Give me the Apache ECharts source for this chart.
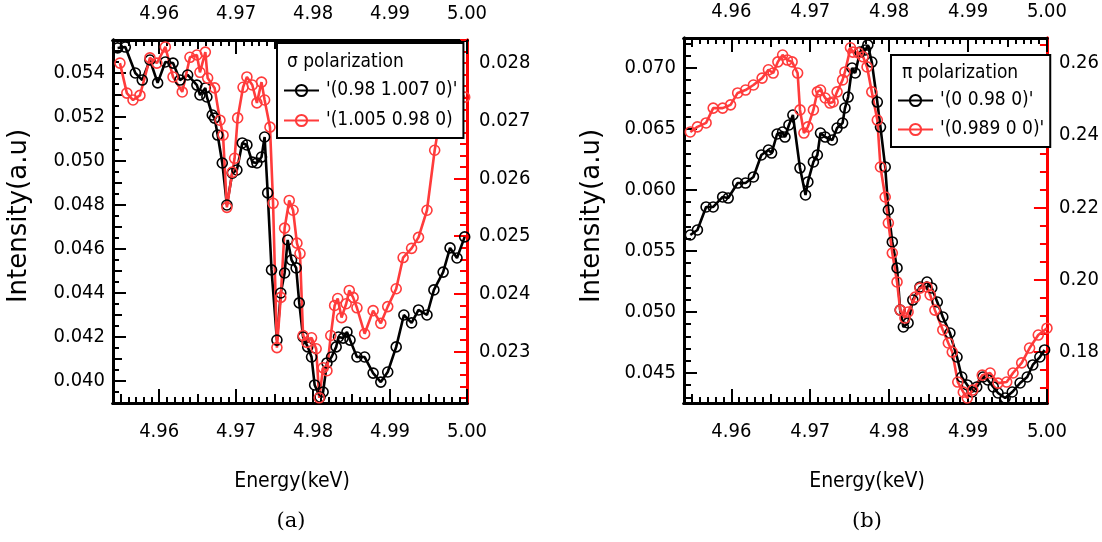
<!DOCTYPE html>
<html><head><meta charset="utf-8">
<script src="https://cdn.jsdelivr.net/npm/echarts@6/dist/echarts.min.js"></script>
<style>html,body{margin:0;padding:0;background:#fff}#c{width:1102px;height:542px}</style>
</head><body><div id="c"></div>
<script>
// ---------- data ----------
const aBlackE = [4.9546,4.9556,4.9569,4.9578,4.9588,4.9598,4.9608,4.9618,4.9627,4.9637,4.9649,4.9653,4.9660,4.9662,4.9669,4.9672,4.9676,4.9682,4.9688,4.9695,4.9701,4.9708,4.9714,4.9721,4.9727,4.9733,4.9737,4.9741,4.9746,4.9753,4.9758,4.9763,4.9767,4.9772,4.9778,4.9782,4.9787,4.9793,4.9798,4.9802,4.9809,4.9813,4.9818,4.9824,4.9830,4.9833,4.9839,4.9844,4.9848,4.9857,4.9867,4.9878,4.9888,4.9897,4.9908,4.9918,4.9928,4.9937,4.9948,4.9957,4.9969,4.9978,4.9987,4.9997];
const aBlackI = [0.05514,0.05518,0.05400,0.05368,0.05459,0.05355,0.05450,0.05445,0.05368,0.05391,0.05345,0.05300,0.05332,0.05291,0.05209,0.05195,0.05118,0.04991,0.04800,0.04945,0.04959,0.05082,0.05073,0.04995,0.04991,0.05018,0.05109,0.04855,0.04505,0.04186,0.04400,0.04491,0.04641,0.04550,0.04514,0.04355,0.04200,0.04155,0.04109,0.03982,0.03927,0.03950,0.04082,0.04109,0.04155,0.04200,0.04195,0.04223,0.04186,0.04109,0.04109,0.04036,0.03995,0.04041,0.04155,0.04300,0.04264,0.04323,0.04300,0.04414,0.04495,0.04605,0.04559,0.04655];
const aRedE = [4.9549,4.9558,4.9566,4.9575,4.9588,4.9597,4.9608,4.9618,4.9630,4.9640,4.9649,4.9653,4.9660,4.9663,4.9672,4.9679,4.9683,4.9688,4.9695,4.9698,4.9702,4.9709,4.9714,4.9721,4.9727,4.9733,4.9737,4.9744,4.9748,4.9753,4.9758,4.9763,4.9769,4.9774,4.9779,4.9783,4.9787,4.9792,4.9798,4.9804,4.9808,4.9813,4.9818,4.9823,4.9828,4.9832,4.9837,4.9843,4.9847,4.9852,4.9857,4.9867,4.9878,4.9888,4.9897,4.9908,4.9917,4.9928,4.9937,4.9948,4.9958,4.9973,4.9997];
const aRedI = [0.02800,0.02748,0.02736,0.02744,0.02809,0.02800,0.02828,0.02776,0.02750,0.02810,0.02814,0.02784,0.02819,0.02774,0.02757,0.02701,0.02675,0.02550,0.02611,0.02635,0.02705,0.02758,0.02776,0.02762,0.02731,0.02767,0.02736,0.02689,0.02557,0.02307,0.02394,0.02514,0.02562,0.02545,0.02488,0.02470,0.02328,0.02316,0.02324,0.02305,0.02220,0.02272,0.02267,0.02328,0.02380,0.02392,0.02359,0.02383,0.02406,0.02394,0.02376,0.02331,0.02371,0.02349,0.02378,0.02409,0.02463,0.02479,0.02498,0.02545,0.02649,0.02770,0.02741];
const bBlackE = [4.9548,4.9557,4.9568,4.9577,4.9589,4.9596,4.9608,4.9618,4.9628,4.9638,4.9647,4.9651,4.9658,4.9665,4.9668,4.9673,4.9678,4.9687,4.9694,4.9697,4.9704,4.9709,4.9713,4.9719,4.9728,4.9734,4.9741,4.9744,4.9748,4.9753,4.9757,4.9763,4.9770,4.9773,4.9778,4.9785,4.9789,4.9795,4.9799,4.9804,4.9810,4.9814,4.9818,4.9824,4.9830,4.9839,4.9848,4.9854,4.9861,4.9868,4.9877,4.9886,4.9892,4.9899,4.9905,4.9911,4.9919,4.9925,4.9932,4.9938,4.9947,4.9956,4.9966,4.9975,4.9982,4.9991,4.9997];
const bBlackI = [0.05631,0.05672,0.05861,0.05861,0.05943,0.05934,0.06057,0.06057,0.06107,0.06287,0.06328,0.06303,0.06459,0.06475,0.06434,0.06533,0.06615,0.06180,0.05959,0.06066,0.06230,0.06287,0.06467,0.06434,0.06410,0.06508,0.06549,0.06672,0.06762,0.07000,0.06959,0.07131,0.07148,0.07189,0.07049,0.06721,0.06516,0.06189,0.05836,0.05574,0.05361,0.05016,0.04877,0.04910,0.05098,0.05205,0.05246,0.05197,0.05082,0.04959,0.04828,0.04631,0.04467,0.04402,0.04344,0.04385,0.04467,0.04443,0.04385,0.04336,0.04295,0.04344,0.04418,0.04467,0.04566,0.04631,0.04689];
const bRedE = [4.9548,4.9557,4.9568,4.9577,4.9589,4.9599,4.9608,4.9618,4.9628,4.9639,4.9647,4.9653,4.9659,4.9665,4.9671,4.9677,4.9684,4.9687,4.9692,4.9697,4.9704,4.9709,4.9713,4.9719,4.9725,4.9729,4.9734,4.9741,4.9744,4.9751,4.9754,4.9761,4.9767,4.9772,4.9778,4.9785,4.9789,4.9795,4.9799,4.9804,4.9810,4.9814,4.9820,4.9824,4.9833,4.9839,4.9848,4.9852,4.9858,4.9868,4.9875,4.9880,4.9887,4.9894,4.9899,4.9906,4.9918,4.9928,4.9938,4.9949,4.9957,4.9968,4.9978,4.9989,5.0000];
const bRedI = [0.2409,0.2423,0.2434,0.2475,0.2475,0.2484,0.2517,0.2525,0.2539,0.2558,0.2581,0.2572,0.2603,0.2622,0.2608,0.2603,0.2572,0.2470,0.2406,0.2423,0.2470,0.2520,0.2525,0.2503,0.2489,0.2492,0.2520,0.2553,0.2575,0.2642,0.2630,0.2628,0.2617,0.2589,0.2520,0.2442,0.2312,0.2229,0.2157,0.2074,0.1994,0.1916,0.1894,0.1911,0.1952,0.1977,0.1980,0.1958,0.1916,0.1861,0.1825,0.1800,0.1717,0.1689,0.1673,0.1695,0.1736,0.1742,0.1714,0.1717,0.1742,0.1770,0.1811,0.1847,0.1866];

const seriesNames = ["'(0.98 1.007 0)'", "'(1.005 0.98 0)", "'(0 0.98 0)'", "'(0.989 0 0)'"];
const legendTitles = ['σ polarization', 'π polarization'];
const xTitle = 'Energy(keV)';
const yTitle = 'Intensity(a.u)';
const panelTags = ['(a)', '(b)'];

const xMajor = [4.96, 4.97, 4.98, 4.99, 5.00];
const aLeftMajor = [0.040, 0.042, 0.044, 0.046, 0.048, 0.050, 0.052, 0.054];
const aRightMajor = [0.023, 0.024, 0.025, 0.026, 0.027, 0.028];
const bLeftMajor = [0.045, 0.050, 0.055, 0.060, 0.065, 0.070];
const bRightMajor = [0.18, 0.20, 0.22, 0.24, 0.26];

// ---------- helpers ----------
function range(a, b, step) {
  const out = []; const n = Math.round((b - a) / step);
  for (let i = 0; i <= n; i++) out.push(+(a + i * step).toFixed(6));
  return out;
}
function zip(xs, ys) { return xs.map((x, i) => [x, ys[i]]); }
const FONT = "'DejaVu Sans Condensed','Liberation Sans Narrow','Roboto Condensed','DejaVu Sans',sans-serif";
const XMIN = 4.954, XMAX = 5.000;
const TICKFS = 20;

const grids = [
  { left: 113, top: 40, width: 354, height: 363 },
  { left: 684, top: 38, width: 363, height: 365 }
];

const xAxes = [], yAxes = [];
function addX(g, pos, ticks, len, labels) {
  xAxes.push({
    type: 'value', gridIndex: g, position: pos, min: XMIN, max: XMAX,
    splitLine: { show: false },
    axisLine: { show: true, onZero: false, lineStyle: { color: '#000', width: 3 } },
    axisTick: { show: true, inside: true, length: len, customValues: ticks, lineStyle: { color: '#000', width: 2 } },
    axisLabel: labels ? { show: true, customValues: ticks, formatter: v => v.toFixed(2), margin: pos === 'bottom' ? 19 : 16, fontSize: TICKFS, fontFamily: FONT, color: '#000' } : { show: false }
  });
  return xAxes.length - 1;
}
function addY(g, pos, min, max, ticks, len, labels, color, dec) {
  yAxes.push({
    type: 'value', gridIndex: g, position: pos, min: min, max: max,
    splitLine: { show: false },
    axisLine: { show: true, onZero: false, lineStyle: { color: color, width: 3 } },
    axisTick: { show: true, inside: true, length: len, customValues: ticks, lineStyle: { color: color, width: 2 } },
    axisLabel: labels ? { show: true, customValues: ticks, formatter: v => v.toFixed(dec), margin: pos === 'left' ? 8 : 12, fontSize: TICKFS, fontFamily: FONT, color: '#000' } : { show: false }
  });
  return yAxes.length - 1;
}

const xIdx = [], yL = [], yR = [];
[0, 1].forEach(g => {
  ['bottom', 'top'].forEach(pos => {
    const m = addX(g, pos, xMajor, 14, true);
    addX(g, pos, range(4.955, 4.995, 0.01), 9, false);
    addX(g, pos, range(4.954, 5.000, 0.001), 6, false);
    if (pos === 'bottom') xIdx[g] = m;
  });
});
// panel a
yL[0] = addY(0, 'left', 0.0390, 0.0555, aLeftMajor, 13, true, '#000', 3);
addY(0, 'left', 0.0390, 0.0555, range(0.039, 0.055, 0.001), 9, false, '#000', 3);
addY(0, 'left', 0.0390, 0.0555, range(0.039, 0.0555, 0.0005), 6, false, '#000', 3);
yR[0] = addY(0, 'right', 0.02211, 0.02840, aRightMajor, 13, true, '#ff0000', 3);
addY(0, 'right', 0.02211, 0.02840, range(0.0222, 0.0284, 0.0002), 7, false, '#ff0000', 3);
// panel b
yL[1] = addY(1, 'left', 0.04254, 0.07246, bLeftMajor, 13, true, '#000', 3);
addY(1, 'left', 0.04254, 0.07246, range(0.043, 0.072, 0.001), 7, false, '#000', 3);
yR[1] = addY(1, 'right', 0.1659, 0.2669, bRightMajor, 13, true, '#ff0000', 2);
addY(1, 'right', 0.1659, 0.2669, range(0.17, 0.265, 0.005), 7, false, '#ff0000', 2);

function mkSeries(name, data, xi, yi, color) {
  return {
    name: name, type: 'line', xAxisIndex: xi, yAxisIndex: yi, data: data,
    symbol: 'circle', symbolSize: 10, showSymbol: true, animation: false,
    itemStyle: { color: 'rgba(0,0,0,0)', borderColor: color, borderWidth: 1.6 },
    lineStyle: { color: color, width: 2.6 },
    emphasis: { disabled: true }
  };
}
const BLACK = '#000000', RED = '#ff3b3b';
const series = [
  mkSeries(seriesNames[0], zip(aBlackE, aBlackI), xIdx[0], yL[0], BLACK),
  mkSeries(seriesNames[1], zip(aRedE, aRedI), xIdx[0], yR[0], RED),
  mkSeries(seriesNames[2], zip(bBlackE, bBlackI), xIdx[1], yL[1], BLACK),
  mkSeries(seriesNames[3], zip(bRedE, bRedI), xIdx[1], yR[1], RED)
];

function mkLegend(names, left, top, padTop, gap) {
  return {
    data: names, orient: 'vertical', left: left, top: top,
    padding: [padTop, 6, 8, 6], itemGap: gap, itemWidth: 35, itemHeight: 14,
    backgroundColor: '#fff', borderColor: '#000', borderWidth: 2, borderRadius: 0,
    selectedMode: false,
    textStyle: { fontSize: 19, fontFamily: FONT, color: '#000', padding: [0, 0, 0, 2] }
  };
}

const graphics = [
  { type: 'text', x: 287, y: 62, z: 100, style: { text: legendTitles[0], fontSize: 19, fontFamily: FONT, fill: '#000', textAlign: 'left', textVerticalAlign: 'middle' } },
  { type: 'text', x: 902, y: 73, z: 100, style: { text: legendTitles[1], fontSize: 19, fontFamily: FONT, fill: '#000', textAlign: 'left', textVerticalAlign: 'middle' } },
  { type: 'text', x: 292, y: 482, style: { text: xTitle, fontSize: 21, fontFamily: FONT, fill: '#000', textAlign: 'center', textVerticalAlign: 'middle' } },
  { type: 'text', x: 867, y: 482, style: { text: xTitle, fontSize: 21, fontFamily: FONT, fill: '#000', textAlign: 'center', textVerticalAlign: 'middle' } },
  { type: 'text', x: 291, y: 522, style: { text: panelTags[0], fontSize: 21, fontFamily: "'DejaVu Serif','Liberation Serif',serif", fill: '#000', textAlign: 'center', textVerticalAlign: 'middle' } },
  { type: 'text', x: 867, y: 522, style: { text: panelTags[1], fontSize: 21, fontFamily: "'DejaVu Serif','Liberation Serif',serif", fill: '#000', textAlign: 'center', textVerticalAlign: 'middle' } },
  { type: 'text', x: 19, y: 216, rotation: Math.PI / 2, style: { text: yTitle, fontSize: 26, fontFamily: "'DejaVu Sans',sans-serif", fill: '#000', textAlign: 'center', textVerticalAlign: 'middle' } },
  { type: 'text', x: 592, y: 216, rotation: Math.PI / 2, style: { text: yTitle, fontSize: 26, fontFamily: "'DejaVu Sans',sans-serif", fill: '#000', textAlign: 'center', textVerticalAlign: 'middle' } }
];

const chart = echarts.init(document.getElementById('c'), null, { renderer: 'canvas' });
chart.setOption({
  animation: false,
  backgroundColor: '#fff',
  grid: grids,
  xAxis: xAxes,
  yAxis: yAxes,
  legend: [
    mkLegend([seriesNames[0], seriesNames[1]], 277, 43, 38, 11),
    mkLegend([seriesNames[2], seriesNames[3]], 891, 55, 36, 10)
  ],
  graphic: graphics,
  series: series
});
</script></body></html>
